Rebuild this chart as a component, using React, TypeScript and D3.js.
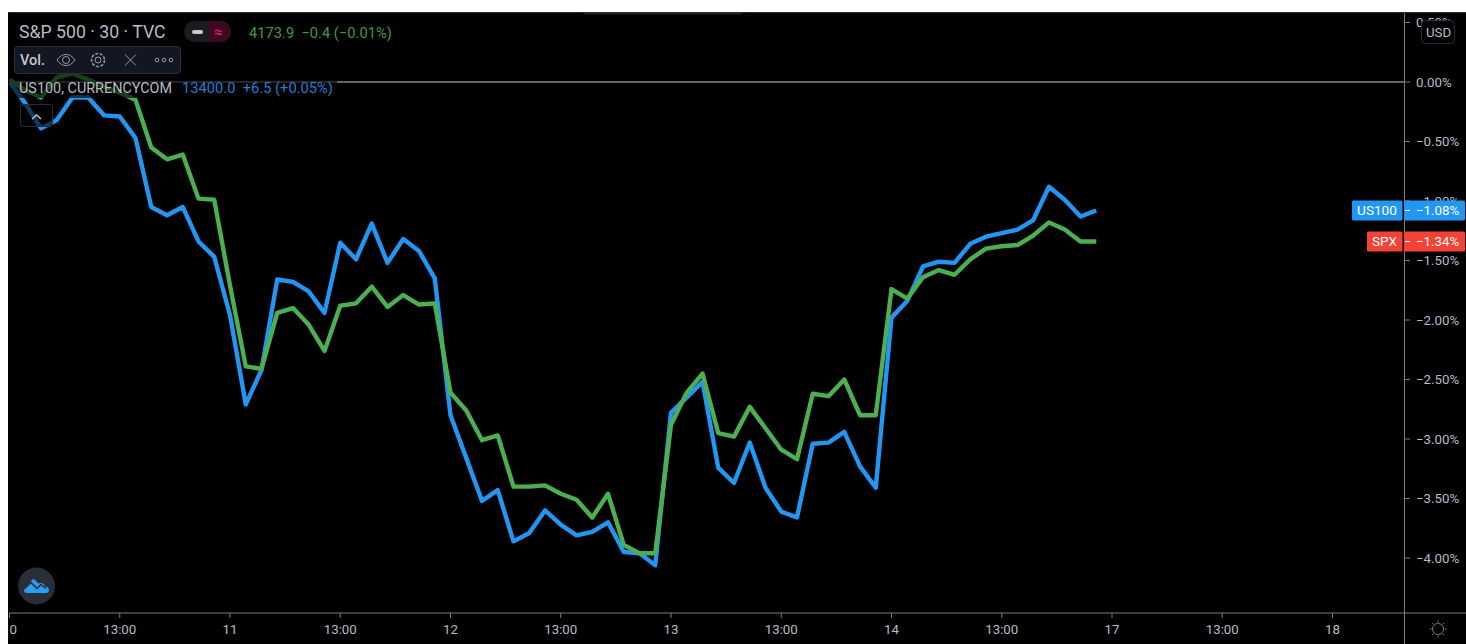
import React from "react";
import * as d3 from "d3";

const W = 1466;
const H = 644;

const usTech = [0, -0.18, -0.39, -0.32, -0.13, -0.13, -0.28, -0.29, -0.47, -1.05, -1.12, -1.05, -1.34, -1.47, -1.96, -2.71, -2.42, -1.66, -1.68, -1.76, -1.94, -1.35, -1.49, -1.19, -1.52, -1.32, -1.42, -1.65, -2.8, -3.16, -3.52, -3.43, -3.86, -3.79, -3.6, -3.72, -3.81, -3.78, -3.7, -3.95, -3.96, -4.06, -2.78, -2.65, -2.52, -3.24, -3.37, -3.03, -3.41, -3.61, -3.66, -3.04, -3.03, -2.94, -3.23, -3.41, -1.98, -1.84, -1.55, -1.51, -1.52, -1.36, -1.3, -1.27, -1.24, -1.16, -0.88, -0.99, -1.13, -1.08];
const spx = [0.02, -0.07, -0.13, 0.04, 0.07, 0.02, -0.04, -0.09, -0.15, -0.55, -0.65, -0.61, -0.98, -0.99, -1.71, -2.39, -2.41, -1.94, -1.9, -2.04, -2.26, -1.88, -1.86, -1.72, -1.89, -1.79, -1.87, -1.86, -2.61, -2.76, -3.01, -2.97, -3.4, -3.4, -3.39, -3.46, -3.51, -3.66, -3.46, -3.89, -3.96, -3.96, -2.88, -2.61, -2.45, -2.95, -2.98, -2.73, -2.91, -3.09, -3.17, -2.62, -2.64, -2.5, -2.8, -2.8, -1.74, -1.82, -1.64, -1.58, -1.62, -1.49, -1.4, -1.38, -1.37, -1.29, -1.18, -1.24, -1.34, -1.34];

const yTicks = [0.5, 0, -0.5, -1, -1.5, -2, -2.5, -3, -3.5, -4];
const xTickLabels = ["10", "13:00", "11", "13:00", "12", "13:00", "13", "13:00", "14", "13:00", "17", "13:00", "18"];
const xTickStep = 7;

const x = d3.scaleLinear().domain([0, 69]).range([9.5, 1096.25]);
const y = d3.scaleLinear().domain([0, -4]).range([82, 558]);
const line = d3.line<number>().x((_, i) => x(i)).y((d) => y(d));

const AXIS = "#787b86";
const TEXT = "#b8bbc3";
const FONT = "Roboto, 'Open Sans', sans-serif";
const fmt = (v: number) => `${v < 0 ? "\u2212" : ""}${Math.abs(v).toFixed(2)}%`;

export default function App() {
  return (
    <svg width={W} height={H} viewBox={`0 0 ${W} ${H}`} style={{ position: "fixed", left: 0, top: 0, background: "#fff", display: "block" }} fontFamily={FONT}>
      <defs>
        <clipPath id="plot"><rect x={9} y={13} width={1395} height={600} /></clipPath>
        <clipPath id="bottom"><rect x={9} y={613} width={1395} height={31} /></clipPath>
      </defs>
      <rect x={8} y={12} width={1458} height={632} fill="#000" />
      <rect x={8} y={12} width={1458} height={1} fill="#2a2e39" />
      <rect x={584} y={13} width={158} height={1.5} fill="#1e222d" />

      <g clipPath="url(#plot)">
        <line x1={9} x2={1404} y1={y(0)} y2={y(0)} stroke="#c9cbd1" strokeWidth={1} />
        <path d={line(usTech) ?? ""} fill="none" stroke="#2196f3" strokeWidth={4.4} strokeLinejoin="round" />
        <path d={line(spx) ?? ""} fill="none" stroke="#4caf50" strokeWidth={4.4} strokeLinejoin="round" />
      </g>

      {/* right axis */}
      <line x1={1404.5} x2={1404.5} y1={13} y2={644} stroke={AXIS} />
      {yTicks.map((t) => (
        <g key={t}>
          <line x1={1405} x2={1410} y1={y(t)} y2={y(t)} stroke={AXIS} />
          <text x={1416} y={y(t) + 4.5} fontSize={13.3} fill={TEXT}>{fmt(t)}</text>
        </g>
      ))}

      {/* bottom axis */}
      <line x1={9} x2={1466} y1={613} y2={613} stroke={AXIS} />
      <g clipPath="url(#bottom)">
        {xTickLabels.map((l, i) => (
          <g key={i}>
            <line x1={x(i * xTickStep)} x2={x(i * xTickStep)} y1={613} y2={618} stroke={AXIS} />
            <text x={x(i * xTickStep)} y={634} textAnchor="middle" fontSize={13.3} fill={TEXT}>{l}</text>
          </g>
        ))}
      </g>

      {/* legend overlay */}
      <rect x={9} y={74} width={328} height={24} fill="#000" fillOpacity={0.65} />
      <text x={19} y={38} fontSize={17.7} fill={TEXT}>S&amp;P 500 · 30 · TVC</text>
      <g>
        <rect x={184} y={21} width={47} height={21} rx={10.5} fill="#1b1c20" />
        <path d="M208 21h12.5a10.5 10.5 0 0 1 0 21H208z" fill="#3b0a20" />
        <rect x={192} y={30} width={11} height={4} rx={2} fill="#c9cbd1" />
        <text x={218} y={37} textAnchor="middle" fontSize={15} fontWeight={700} fill="#d81b60">≈</text>
      </g>
      <text x={249} y={38} fontSize={14.7} fill="#3f9a44" xmlSpace="preserve">4173.9  {"\u2212"}0.4 ({"\u2212"}0.01%)</text>

      <rect x={14.5} y={46.5} width={166} height={27} rx={3} fill="#131722" stroke="#2a2e39" />
      <text x={20} y={65} fontSize={14.5} fontWeight={500} fill="#c4c6cc">Vol.</text>
      <g fill="none" stroke="#9598a1" strokeWidth={1}>
        <path d="M57 60c5-7.5 13-7.5 18 0c-5 7.5-13 7.500-18 0z" />
        <circle cx={66} cy={60} r={3.5} />
        <circle cx={98} cy={60} r={3} />
        <circle cx={98} cy={60} r={6.5} strokeDasharray="3 1.5" strokeWidth={1.6} />
        <path d="M125 54.5l11 11M136 54.5l-11 11" />
        <circle cx={157} cy={60} r={1.8} />
        <circle cx={164} cy={60} r={1.8} />
        <circle cx={171} cy={60} r={1.8} />
      </g>

      <text x={19} y={93} fontSize={14.4} fill={TEXT}>US100, CURRENCYCOM</text>
      <text x={182} y={93} fontSize={14.7} fill="#1f7fcf" xmlSpace="preserve">13400.0  +6.5 (+0.05%)</text>

      <rect x={20.5} y={104.5} width={32} height={22} rx={3} fill="#000" fillOpacity={0.6} stroke="#2a2e39" />
      <path d="M32 119l4.500-4 4.500 4" fill="none" stroke="#c4c6cc" strokeWidth={1.5} />

      {/* price tags */}
      <rect x={1421.5} y={20.5} width={33} height={23} rx={4} fill="#000" stroke="#2a2e39" />
      <text x={1438.5} y={36.5} textAnchor="middle" fontSize={13.3} fill={TEXT}>USD</text>

      <rect x={1352} y={200.5} width={50.5} height={20} rx={1.5} fill="#2196f3" />
      <rect x={1404} y={200.5} width={61} height={20} rx={1.5} fill="#2196f3" />
      <text x={1377} y={215} textAnchor="middle" fontSize={13.6} fill="#fff">US100</text>
      <line x1={1405} x2={1410} y1={210.5} y2={210.5} stroke="#fff" />
      <text x={1416} y={215} fontSize={13.3} fill="#fff">{fmt(usTech[usTech.length - 1])}</text>

      <rect x={1367} y={231.5} width={35.5} height={20} rx={1.5} fill="#f44336" />
      <rect x={1404} y={231.5} width={61} height={20} rx={1.5} fill="#f44336" />
      <text x={1384.5} y={246} textAnchor="middle" fontSize={13.6} fill="#fff">SPX</text>
      <line x1={1405} x2={1410} y1={241.5} y2={241.5} stroke="#fff" />
      <text x={1416} y={246} fontSize={13.3} fill="#fff">{fmt(spx[spx.length - 1])}</text>

      {/* logo */}
      <circle cx={36.5} cy={586} r={18.5} fill="#2a2e39" />
      <path d="M24 590.500c0-2.500 2-4 4-4.500l3.500-5.500c1-1.500 2.500-1.500 3.500-.5l3.500 3.500 2-.5c2.500 0 4 1.500 4.500 3.500 3 0 4 2 4 3.500 0 1.500-1 3-3 3H27c-2 0-3-1-3-2.500z" fill="#2ba0f0" />
      <path d="M24 589l7-6.500 6 6 4-4 5 4" fill="none" stroke="#2a2e39" strokeWidth={1.6} />

      {/* settings sun */}
      <g stroke="#787b86" fill="none" strokeWidth={1}>
        <circle cx={1438} cy={629} r={5.5} />
        {d3.range(8).map((i) => {
          const a = (i * Math.PI) / 4;
          return <line key={i} x1={1438 + 6.5 * Math.cos(a)} y1={629 + 6.5 * Math.sin(a)} x2={1438 + 8.5 * Math.cos(a)} y2={629 + 8.5 * Math.sin(a)} />;
        })}
      </g>
    </svg>
  );
}
